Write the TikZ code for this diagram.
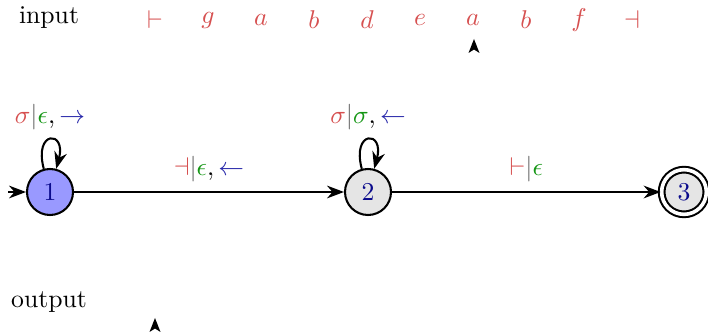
\documentclass[tikz,border=0pt]{standalone}
\usepackage{amsmath,amssymb}
\usetikzlibrary{arrows.meta}
\definecolor{symred}{RGB}{214,80,80}
\definecolor{outgreen}{RGB}{20,150,20}
\definecolor{mvblue}{RGB}{40,40,170}
\definecolor{statetxt}{RGB}{10,10,140}
\newcommand{\rd}[1]{\textcolor{symred}{#1}}
\newcommand{\gr}[1]{\textcolor{outgreen}{#1}}
\newcommand{\bl}[1]{\textcolor{mvblue}{#1}}
\newcommand{\br}{\textcolor{black!60}{|}}
\tikzset{
  state/.style={circle, draw, thick, minimum size=17.9pt, inner sep=0pt, text=statetxt},
  accepting/.style={double, double distance=1.4pt, minimum size=17.4pt},
  tapesym/.style={text=symred},
  head/.style={fill=black},
}
\begin{document}
\begin{tikzpicture}[x=0.3892pt, y=-0.3892pt, >=Stealth]
            \useasboundingbox (0,0) rectangle (708,333);
            % ---------- tape ----------
            \node (input) at (49,18) {input};
            \foreach \s [count=\i] in {\vdash, g, a, b, d, e, a, b, f, \dashv}
                \node[tapesym] (t\i) at (155+53*\i-53,20) {\(\s\)};
            \fill[head] (474,39) -- (479.5,53) -- (474,49.5) -- (468.5,53) -- cycle;
            % ---------- states ----------
            \node[state, fill=blue!40] (q1) at (50,192) {\(1\)};
            \node[state, fill=black!10] (q2) at (368,192) {\(2\)};
            \node[state, accepting, fill=black!10] (q3) at (684,192) {\(3\)};
            \coordinate (start) at (8,192);
            % ---------- transitions ----------
            \draw[->, thick] (start) -- (q1);
            \draw[->, thick] (q1) to[loop above, min distance=5.5mm] node[above]
                {\(\rd{\sigma}\br\gr{\epsilon},\bl{\rightarrow}\)} (q1);
            \draw[->, thick] (q2) to[loop above, min distance=5.5mm] node[above]
                {\(\rd{\sigma}\br\gr{\sigma},\bl{\leftarrow}\)} (q2);
            \draw[->, thick] (q1) -- node[above=0pt]
                {\(\rd{\dashv}\br\gr{\epsilon},\bl{\leftarrow}\)} (q2);
            \draw[->, thick] (q2) -- node[above=0pt]
                {\(\rd{\vdash}\br\gr{\epsilon}\)} (q3);
            % ---------- output ----------
            \node (output) at (49,302) {output};
            \fill[head] (155,318) -- (160.5,332) -- (155,328.5) -- (149.5,332) -- cycle;
\end{tikzpicture}
\end{document}
